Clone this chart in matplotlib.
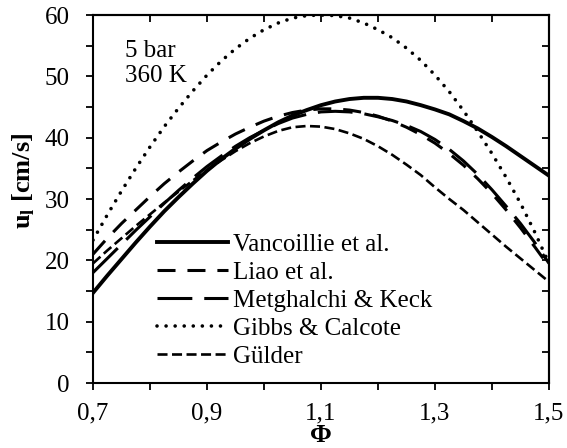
import matplotlib
matplotlib.use("Agg")
import matplotlib.pyplot as plt
from matplotlib.ticker import MultipleLocator

plt.rcParams['font.family'] = ['Liberation Serif', 'DejaVu Serif']
plt.rcParams['mathtext.fontset'] = 'custom'
plt.rcParams['mathtext.rm'] = 'Liberation Serif'
plt.rcParams['mathtext.bf'] = 'Liberation Serif:bold'

phi = [0.700, 0.725, 0.750, 0.775, 0.800, 0.825, 0.850, 0.875, 0.900, 0.925,
       0.950, 0.975, 1.000, 1.025, 1.050, 1.075, 1.100, 1.125, 1.150, 1.175,
       1.200, 1.225, 1.250, 1.275, 1.300, 1.325, 1.350, 1.375, 1.400, 1.425,
       1.450, 1.475, 1.500]
vancoillie = [14.7, 17.5, 20.2, 22.9, 25.5, 28.0, 30.3, 32.5, 34.6, 36.5,
              38.2, 39.8, 41.2, 42.5, 43.6, 44.5, 45.3, 45.9, 46.3, 46.5,
              46.5, 46.3, 45.9, 45.3, 44.6, 43.8, 42.7, 41.5, 40.1, 38.6,
              37.0, 35.4, 33.8]
liao = [21.0, 23.6, 26.0, 28.2, 30.4, 32.5, 34.4, 36.2, 37.9, 39.3,
        40.6, 41.7, 42.7, 43.5, 44.1, 44.5, 44.7, 44.7, 44.5, 44.1,
        43.5, 42.7, 41.7, 40.5, 39.1, 37.4, 35.5, 33.3, 30.9, 28.2,
        25.3, 22.2, 19.0]
metghalchi = [18.0, 20.3, 22.6, 24.9, 27.1, 29.3, 31.4, 33.4, 35.3, 37.0,
              38.6, 40.0, 41.2, 42.3, 43.2, 43.8, 44.2, 44.3, 44.2, 43.9,
              43.4, 42.8, 42.0, 41.0, 39.7, 38.1, 36.2, 34.0, 31.5, 28.8,
              26.0, 22.9, 19.5]
gibbs = [23.3, 27.4, 31.3, 35.0, 38.5, 41.8, 44.8, 47.6, 50.2, 52.5,
         54.5, 56.2, 57.6, 58.7, 59.5, 59.9, 60.0, 59.9, 59.5, 58.7,
         57.6, 56.3, 54.6, 52.6, 50.2, 47.5, 44.4, 41.0, 37.4, 33.5,
         29.3, 24.6, 19.5]
gulder = [19.5, 21.6, 23.6, 25.6, 27.5, 29.4, 31.2, 33.0, 34.7, 36.3,
          37.8, 39.1, 40.2, 41.1, 41.7, 41.9, 41.8, 41.4, 40.7, 39.8,
          38.6, 37.2, 35.6, 33.9, 31.9, 30.0, 28.2, 26.2, 24.2, 22.2,
          20.3, 18.4, 16.5]

series_labels = ["Vancoillie et al.", "Liao et al.", "Metghalchi & Keck",
                 "Gibbs & Calcote", "Gülder"]
x_ticks = [0.7, 0.9, 1.1, 1.3, 1.5]
x_tick_labels = ["0,7", "0,9", "1,1", "1,3", "1,5"]
y_ticks = [0, 10, 20, 30, 40, 50, 60]

FS = 18

fig = plt.figure(figsize=(5.67, 4.48), dpi=100)
ax = fig.add_axes([93/567, 1-383/448, (549-93)/567, (383-15)/448])

ax.plot(phi, vancoillie, color='black', lw=2.8, ls='-', label=series_labels[0])
ax.plot(phi, liao, color='black', lw=2.2, ls=(0, (5.9, 3.9)), label=series_labels[1])
ax.plot(phi, metghalchi, color='black', lw=2.2, ls=(0, (11.4, 3.9)), label=series_labels[2])
ax.plot(phi, gibbs, color='black', lw=2.6, ls=(0, (0.01, 2.5)),
        dash_capstyle='round', label=series_labels[3])
ax.plot(phi, gulder, color='black', lw=1.9, ls=(0, (3.8, 1.7)), label=series_labels[4])

ax.set_xlim(0.7, 1.5)
ax.set_ylim(0, 60)
ax.set_xticks(x_ticks)
ax.set_xticklabels(x_tick_labels)
ax.xaxis.set_minor_locator(MultipleLocator(0.1))
ax.set_yticks(y_ticks)
ax.yaxis.set_minor_locator(MultipleLocator(5))

for s in ax.spines.values():
    s.set_linewidth(1.5)

ax.tick_params(axis='both', which='both', labelsize=FS, width=1.3, length=5,
               direction='out', top=False, right=False)
ax.tick_params(axis='x', which='major', pad=9)
ax.tick_params(axis='y', which='major', pad=12)

# mirrored top/right ticks pointing inward
axt = ax.secondary_xaxis('top')
axt.set_xticks([0.7, 0.8, 0.9, 1.0, 1.1, 1.2, 1.3, 1.4, 1.5])
axt.tick_params(direction='in', length=5, width=1.3, labeltop=False)
axt.set_xticklabels([])
axr = ax.secondary_yaxis('right')
axr.set_yticks([0, 5, 10, 15, 20, 25, 30, 35, 40, 45, 50, 55, 60])
axr.tick_params(direction='in', length=5, width=1.3, labelright=False)
axr.set_yticklabels([])
for sec in (axt, axr):
    for s in sec.spines.values():
        s.set_linewidth(1.5)

# x-axis label placed inside the figure area
fig.text((93 + 549) / 2 / 567, 0.003, 'Φ', fontsize=19, fontweight='bold',
         ha='center', va='bottom')
ax.set_ylabel(r'u$_\mathbf{l}$ [cm/s]', fontsize=19, fontweight='bold')
ax.yaxis.set_label_coords(-0.122, 0.549)

ax.text(0.07, 0.933, '5 bar\n360 K', transform=ax.transAxes, fontsize=FS,
        ha='left', va='top', linespacing=1.22)

leg = ax.legend(loc='upper left', bbox_to_anchor=(0.14, 0.406), frameon=False,
                fontsize=FS, handlelength=2.85, handletextpad=0.2,
                labelspacing=0.22, borderpad=0, borderaxespad=0)

fig.savefig('out.png', dpi=100)
